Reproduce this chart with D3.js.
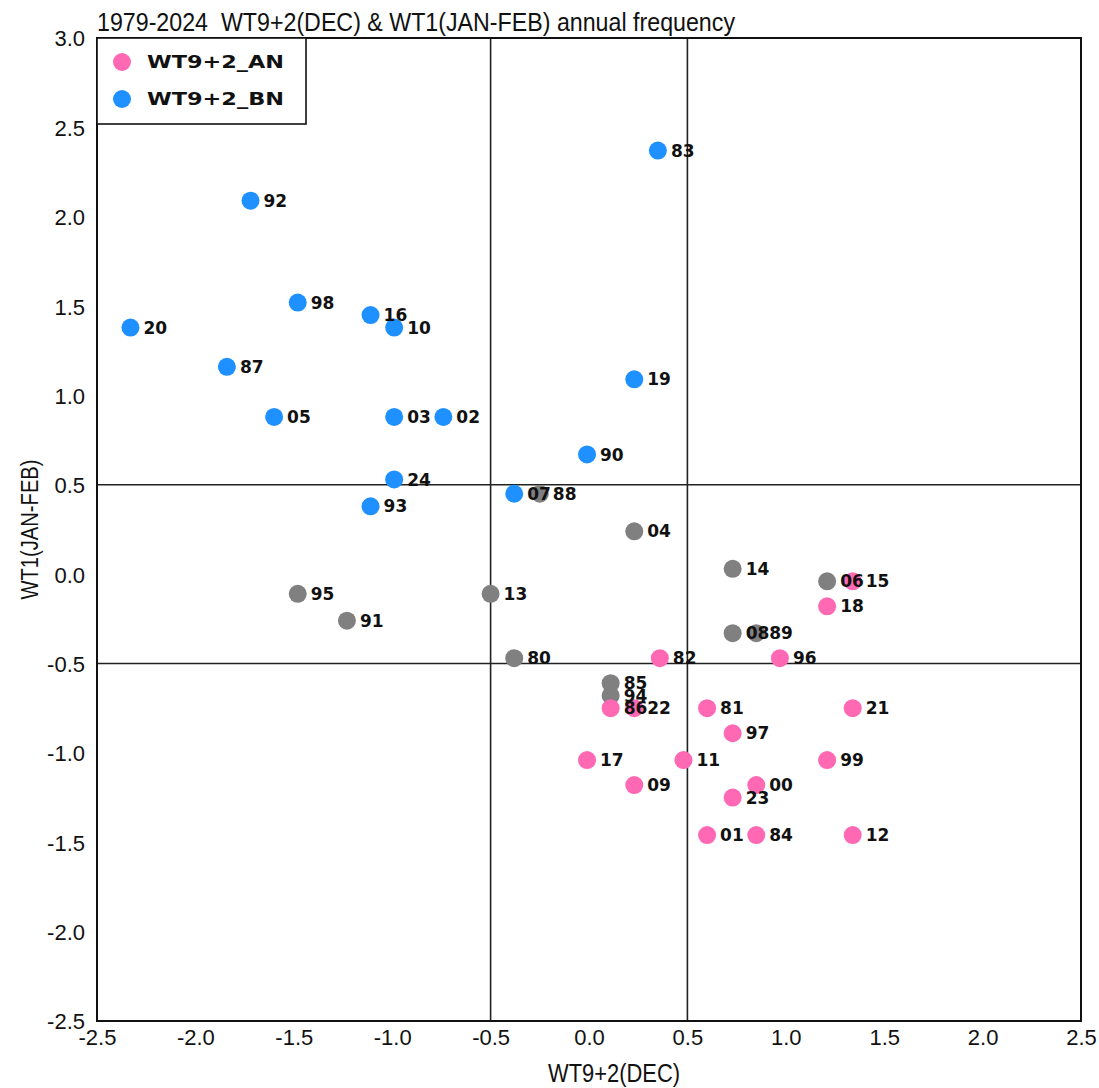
<!DOCTYPE html>
<html>
<head>
<meta charset="utf-8">
<script src="https://cdn.jsdelivr.net/npm/d3@7"></script>
<style>
  body { margin: 0; background: #fff; }
  .tick-lbl { font-family: "Liberation Sans", Arial, sans-serif; font-size: 22px; fill: #111; }
  .pt-lbl { font-family: "DejaVu Sans", sans-serif; font-weight: bold; font-size: 17px; fill: #111; }
</style>
</head>
<body>
<svg id="chart" width="1099" height="1088"></svg>
<script>
// years, positions and groups
var years = ["83","92","98","16","10","20","87","19","05","03","02","90","24","07","93",
             "88","04","14","06","95","13","91","08","89","80","85","94",
             "15","18","82","96","86","22","81","21","97","17","11","99","09","00","23","01","84","12"];
var xvals = [0.35,-1.72,-1.48,-1.11,-0.99,-2.33,-1.84,0.23,-1.60,-0.99,-0.74,-0.01,-0.99,-0.38,-1.11,
             -0.25,0.23,0.73,1.21,-1.48,-0.50,-1.23,0.73,0.85,-0.38,0.11,0.11,
             1.34,1.21,0.36,0.97,0.11,0.23,0.60,1.34,0.73,-0.01,0.48,1.21,0.23,0.85,0.73,0.60,0.85,1.34];
var yvals = [2.37,2.09,1.52,1.45,1.38,1.38,1.16,1.09,0.88,0.88,0.88,0.67,0.53,0.45,0.38,
             0.45,0.24,0.03,-0.04,-0.11,-0.11,-0.26,-0.33,-0.33,-0.47,-0.61,-0.68,
             -0.04,-0.18,-0.47,-0.47,-0.75,-0.75,-0.75,-0.75,-0.89,-1.04,-1.04,-1.04,-1.18,-1.18,-1.25,-1.46,-1.46,-1.46];
var groups = ["BN","BN","BN","BN","BN","BN","BN","BN","BN","BN","BN","BN","BN","BN","BN",
              "NN","NN","NN","NN","NN","NN","NN","NN","NN","NN","NN","NN",
              "AN","AN","AN","AN","AN","AN","AN","AN","AN","AN","AN","AN","AN","AN","AN","AN","AN","AN"];
var xticks = [-2.5,-2.0,-1.5,-1.0,-0.5,0.0,0.5,1.0,1.5,2.0,2.5];
var yticks = [-2.5,-2.0,-1.5,-1.0,-0.5,0.0,0.5,1.0,1.5,2.0,2.5,3.0];
var legendNames = ["WT9+2_AN","WT9+2_BN"];
var refLines = [-0.5, 0.5];

var colors = {AN: "#ff69b4", BN: "#1e90ff", NN: "#808080"};

var pl = 97, pr = 1081, pt = 38, pb = 1021;
var svg = d3.select("#chart");

var x = d3.scaleLinear().domain([-2.5, 2.5]).range([pl, pr]);
var y = d3.scaleLinear().domain([-2.5, 3.0]).range([pb, pt]);
var fmt = function(d) { return d.toFixed(1); };

var data = years.map(function(d, i) {
  return {yr: d, x: xvals[i], y: yvals[i], g: groups[i]};
});

// reference lines
svg.selectAll(".vref").data(refLines).join("line")
  .attr("class", "vref")
  .attr("x1", function(d) { return x(d); }).attr("x2", function(d) { return x(d); })
  .attr("y1", pt).attr("y2", pb)
  .attr("stroke", "#222").attr("stroke-width", 1.6);
svg.selectAll(".href").data(refLines).join("line")
  .attr("class", "href")
  .attr("y1", function(d) { return y(d); }).attr("y2", function(d) { return y(d); })
  .attr("x1", pl).attr("x2", pr)
  .attr("stroke", "#222").attr("stroke-width", 1.6);

// axes (labels only, no tick marks)
var xAxis = svg.append("g")
  .attr("transform", "translate(0," + pb + ")")
  .call(d3.axisBottom(x).tickValues(xticks).tickFormat(fmt).tickSize(0).tickPadding(0));
xAxis.select(".domain").remove();
xAxis.selectAll("text").attr("class", "tick-lbl").attr("dy", null).attr("y", 24);

var yAxis = svg.append("g")
  .attr("transform", "translate(" + pl + ",0)")
  .call(d3.axisLeft(y).tickValues(yticks).tickFormat(fmt).tickSize(0).tickPadding(0));
yAxis.select(".domain").remove();
yAxis.selectAll("text").attr("class", "tick-lbl").attr("x", -12).attr("dy", "0.36em");
svg.selectAll(".tick text").attr("fill", null);

// frame
svg.append("rect")
  .attr("x", pl).attr("y", pt)
  .attr("width", pr - pl).attr("height", pb - pt)
  .attr("fill", "none").attr("stroke", "#111").attr("stroke-width", 2);

// points
svg.selectAll(".pt").data(data).join("circle")
  .attr("class", "pt")
  .attr("cx", function(d) { return x(d.x); })
  .attr("cy", function(d) { return y(d.y); })
  .attr("r", 9)
  .attr("fill", function(d) { return colors[d.g]; });

// year labels on top
svg.selectAll(".pt-lbl").data(data).join("text")
  .attr("class", "pt-lbl")
  .attr("x", function(d) { return x(d.x) + 13; })
  .attr("y", function(d) { return y(d.y); })
  .attr("dy", "0.36em")
  .text(function(d) { return d.yr; });

// legend
var lg = svg.append("g");
lg.append("rect")
  .attr("x", pl).attr("y", pt).attr("width", 209).attr("height", 86)
  .attr("fill", "#fff").attr("stroke", "#111").attr("stroke-width", 1.6);
legendNames.forEach(function(name, i) {
  var cy = pt + 24 + i * 37;
  lg.append("circle").attr("cx", pl + 25).attr("cy", cy).attr("r", 9)
    .attr("fill", i == 0 ? colors.AN : colors.BN);
  lg.append("text")
    .attr("x", pl + 50).attr("y", cy).attr("dy", "0.36em")
    .attr("textLength", 137).attr("lengthAdjust", "spacingAndGlyphs")
    .style("font-family", "DejaVu Sans").style("font-weight", "bold").style("font-size", "18px")
    .attr("fill", "#111")
    .text(name);
});

// title and axis titles
svg.append("text")
  .attr("x", pl).attr("y", 31)
  .attr("textLength", 638).attr("lengthAdjust", "spacingAndGlyphs")
  .style("white-space", "pre")
  .style("font-family", "'Liberation Sans', Arial, sans-serif")
  .style("font-size", "26px").attr("fill", "#111")
  .text("1979-2024  WT9+2(DEC) & WT1(JAN-FEB) annual frequency");

svg.append("text")
  .attr("x", 548).attr("y", 1082)
  .attr("textLength", 132).attr("lengthAdjust", "spacingAndGlyphs")
  .style("font-family", "'Liberation Sans', Arial, sans-serif")
  .style("font-size", "25px").attr("fill", "#111")
  .text("WT9+2(DEC)");

svg.append("text")
  .attr("transform", "translate(38," + ((pt + pb) / 2 + 70) + ") rotate(-90)")
  .attr("textLength", 140).attr("lengthAdjust", "spacingAndGlyphs")
  .style("font-family", "'Liberation Sans', Arial, sans-serif")
  .style("font-size", "23px").attr("fill", "#111")
  .text("WT1(JAN-FEB)");
</script>
</body>
</html>
